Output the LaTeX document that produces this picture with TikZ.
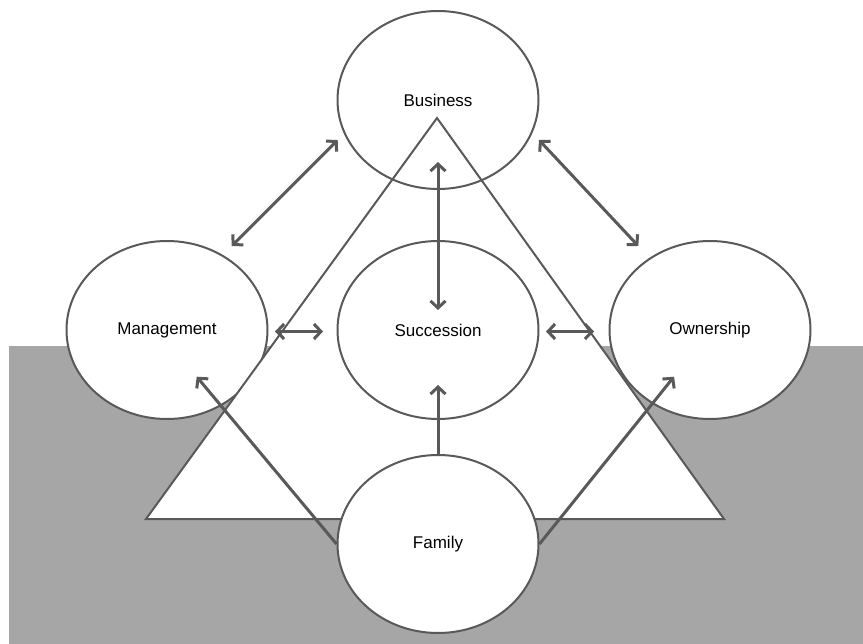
\documentclass[tikz,border=0pt]{standalone}
\usepackage{fontspec}
\setmainfont{Liberation Sans}
\usetikzlibrary{shapes.geometric,arrows.meta}
\definecolor{ln}{HTML}{595959}
\definecolor{bgray}{HTML}{A6A6A6}
\begin{document}
\begin{tikzpicture}[x=1pt,y=-1pt,
  ell/.style={ellipse,draw=ln,line width=2pt,minimum width=201pt,minimum height=178pt,inner sep=0pt,font=\fontsize{17}{20}\selectfont},
  dblarr/.style={draw=ln,line width=3pt,{Straight Barb[length=7pt,width=15pt]}-{Straight Barb[length=7pt,width=15pt]}},
  onearr/.style={draw=ln,line width=3pt,-{Straight Barb[length=7pt,width=15pt]}}]
\useasboundingbox (0,0) rectangle (863,644);
% grey ground
\fill[bgray] (8.5,346) rectangle (863,644);
% side ellipses (under the triangle)
\node[ell,fill=white] (man) at (167,330) {Management};
\node[ell,fill=white] (own) at (710,330) {Ownership};
% triangle
\draw[ln,line width=2pt,fill=white] (437,118) -- (146,519) -- (724,519) -- cycle;
% remaining ellipses
\node[ell] (bus) at (438,100) {Business};
\node[ell,fill=white] (suc) at (438,330) {Succession};
\node[ell,fill=white] (fam) at (438,544) {Family};
% connectors
\draw[dblarr] ([shift={(64.7,-84)}]man.center) -- ([shift={(-100.3,40)}]bus.center);
\draw[dblarr] ([shift={(101,40)}]bus.center) -- ([shift={(-71.7,-84)}]own.center);
\draw[dblarr] ([shift={(0,62)}]bus.center) -- ([shift={(0,-20)}]suc.center);
\draw[dblarr] ([shift={(108,1.5)}]man.center) -- ([shift={(-115,1.5)}]suc.center);
\draw[dblarr] ([shift={(108,1.5)}]suc.center) -- ([shift={(-116,1.5)}]own.center);
\draw[onearr] (fam.north) -- ([shift={(0,55)}]suc.center);
\draw[onearr] (fam.west) -- ([shift={(29.7,46.7)}]man.center);
\draw[onearr] (fam.east) -- ([shift={(-36,46.7)}]own.center);
\end{tikzpicture}
\end{document}
